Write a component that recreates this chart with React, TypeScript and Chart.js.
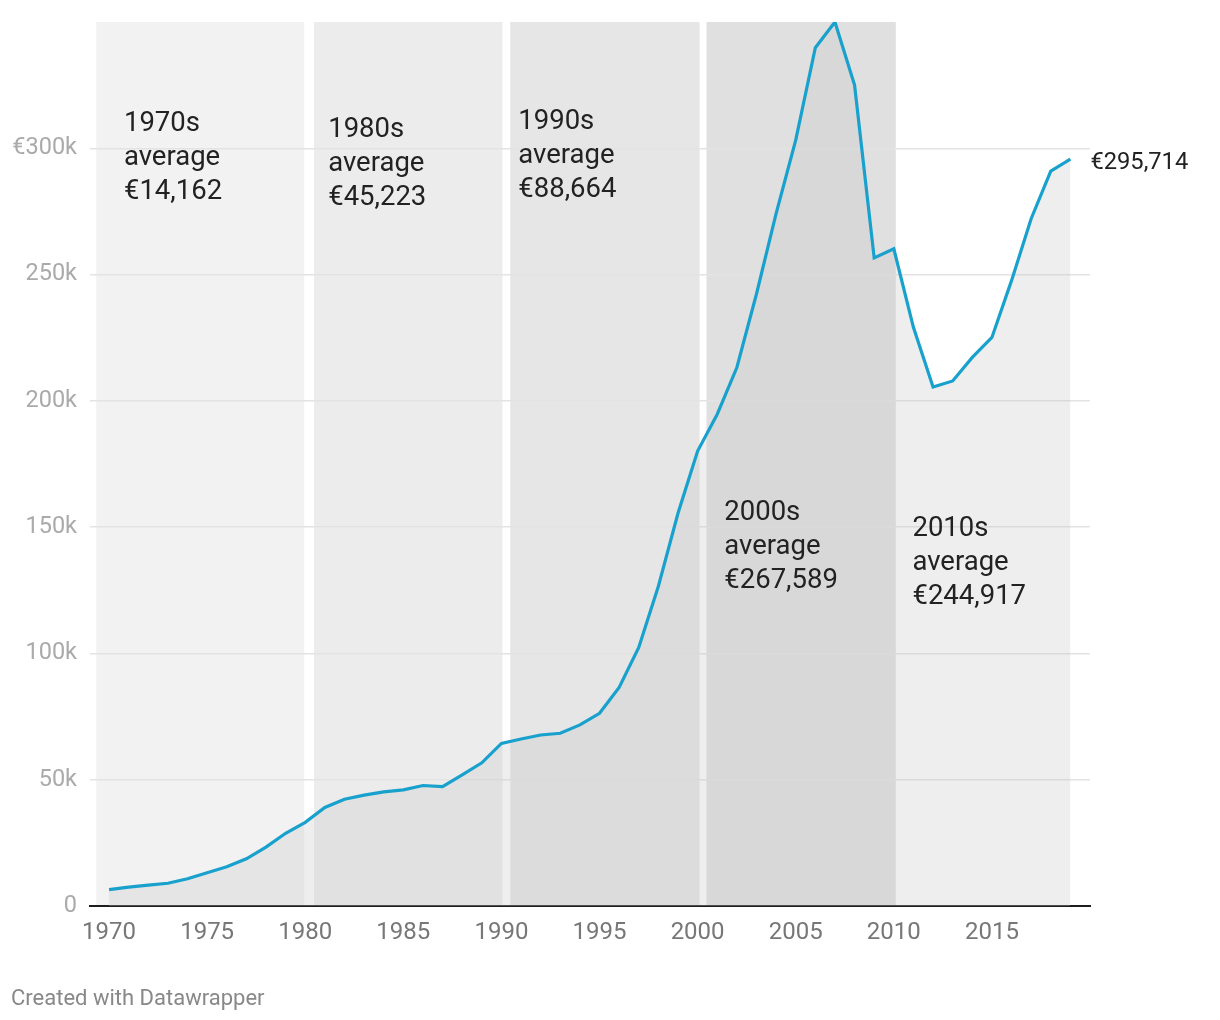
import React, { useEffect, useRef } from 'react';
import { Chart, registerables } from 'chart.js';

Chart.register(...registerables);

// ---- data ----
const years = [
  1970, 1971, 1972, 1973, 1974, 1975, 1976, 1977, 1978, 1979,
  1980, 1981, 1982, 1983, 1984, 1985, 1986, 1987, 1988, 1989,
  1990, 1991, 1992, 1993, 1994, 1995, 1996, 1997, 1998, 1999,
  2000, 2001, 2002, 2003, 2004, 2005, 2006, 2007, 2008, 2009,
  2010, 2011, 2012, 2013, 2014, 2015, 2016, 2017, 2018, 2019,
];
const prices = [
  6500, 7500, 8300, 9000, 10800, 13200, 15500, 18700, 23300, 28800,
  33100, 39000, 42300, 43900, 45200, 46000, 47700, 47300, 51900, 56700,
  64400, 66100, 67700, 68400, 71700, 76300, 86500, 102400, 126600, 155500,
  180100, 194700, 213200, 242300, 274100, 303200, 339800, 350000, 325000, 256600,
  260200, 229100, 205500, 207900, 217200, 225100, 247600, 272100, 291000, 295714,
];
const xTickValues = [1970, 1975, 1980, 1985, 1990, 1995, 2000, 2005, 2010, 2015];
const yTickValues = [0, 50000, 100000, 150000, 200000, 250000, 300000];
const decadeNames = ['1970s', '1980s', '1990s', '2000s', '2010s'];
const decadeAverages = ['€14,162', '€45,223', '€88,664', '€267,589', '€244,917'];
const bandStarts = [1969.35, 1980.45, 1990.45, 2000.45];
const bandEnds = [1979.95, 1990.05, 2000.1, 2010.1];
const lastLabel = '€295,714';
const footerText = 'Created with Datawrapper';

// ---- layout / style ----
const bandColors = ['#f2f2f2', '#ececec', '#e6e6e6', '#e0e0e0'];
const labelAnchors = [
  { x: 1970.76, y: 306700 },
  { x: 1981.17, y: 304300 },
  { x: 1990.86, y: 307500 },
  { x: 2001.36, y: 152800 },
  { x: 2010.95, y: 146400 },
];
const FONT = 'Roboto, "Noto Sans", sans-serif';

const decorPlugin = {
  id: 'decor',
  beforeDraw(chart: any) {
    const { ctx, chartArea, scales } = chart;
    const x = scales.x;
    ctx.save();
    bandStarts.forEach((s, i) => {
      const x1 = x.getPixelForValue(s);
      const x2 = x.getPixelForValue(bandEnds[i]);
      ctx.fillStyle = bandColors[i];
      ctx.fillRect(x1, chartArea.top, x2 - x1, chartArea.bottom - chartArea.top);
    });
    ctx.restore();
  },
  afterDraw(chart: any) {
    const { ctx, scales } = chart;
    const x = scales.x;
    const y = scales.y;
    ctx.save();
    ctx.font = `27.5px ${FONT}`;
    ctx.fillStyle = '#222222';
    ctx.textAlign = 'left';
    ctx.textBaseline = 'alphabetic';
    decadeNames.forEach((n, i) => {
      const px = x.getPixelForValue(labelAnchors[i].x);
      const py = y.getPixelForValue(labelAnchors[i].y);
      [n, 'average', decadeAverages[i]].forEach((t, j) => ctx.fillText(t, px, py + j * 34));
    });
    const lx = x.getPixelForValue(years[years.length - 1]) + 20;
    const ly = y.getPixelForValue(prices[prices.length - 1]) + 4;
    ctx.font = `23.7px ${FONT}`;
    ctx.textBaseline = 'middle';
    ctx.fillText(lastLabel, lx, ly);
    ctx.font = `22px ${FONT}`;
    ctx.fillStyle = '#888888';
    ctx.textBaseline = 'alphabetic';
    ctx.fillText(footerText, 11, 1005);
    ctx.restore();
  },
};

export default function App() {
  const canvasRef = useRef<HTMLCanvasElement | null>(null);

  useEffect(() => {
    if (!canvasRef.current) return;
    const chart = new Chart(canvasRef.current, {
      type: 'line',
      data: {
        datasets: [
          {
            data: years.map((yr, i) => ({ x: yr, y: prices[i] })),
            borderColor: '#18a1cd',
            borderWidth: 3.2,
            pointRadius: 0,
            tension: 0,
            fill: 'origin',
            backgroundColor: 'rgba(200,200,200,0.3)',
            borderJoinStyle: 'miter',
          },
        ],
      },
      options: {
        animation: false,
        responsive: false,
        devicePixelRatio: 1,
        layout: { padding: { left: 0, right: 130, top: 22, bottom: 0 } },
        plugins: {
          legend: { display: false },
          tooltip: { enabled: false },
        },
        scales: {
          x: {
            type: 'linear',
            min: 1969.03,
            max: 2020.0,
            afterBuildTicks: (scale: any) => {
              scale.ticks = xTickValues.map((v) => ({ value: v }));
            },
            afterFit: (scale: any) => {
              scale.height = 114;
              scale.paddingLeft = 0;
              scale.paddingRight = 0;
            },
            grid: { display: false, drawTicks: false },
            border: { display: true, color: '#1d1d1d', width: 2 },
            ticks: {
              autoSkip: false,
              maxRotation: 0,
              padding: 13,
              color: '#777777',
              font: { family: FONT, size: 24 },
              callback: (v: any) => String(v),
            },
          },
          y: {
            type: 'linear',
            min: 0,
            max: 350000,
            afterBuildTicks: (scale: any) => {
              scale.ticks = yTickValues.map((v) => ({ value: v }));
            },
            afterFit: (scale: any) => {
              scale.width = 90;
              scale.paddingTop = 0;
              scale.paddingBottom = 0;
            },
            grid: {
              drawTicks: false,
              lineWidth: 1.5,
              color: (c: any) => (c.tick && c.tick.value === 0 ? 'rgba(0,0,0,0)' : '#e3e3e3'),
            },
            border: { display: false },
            ticks: {
              padding: 13,
              color: '#aaaaaa',
              font: { family: FONT, size: 23.5 },
              callback: (v: any) =>
                v === 300000 ? '€300k' : v === 0 ? '0' : `${Number(v) / 1000}k`,
            },
          },
        },
      },
      plugins: [decorPlugin],
    });
    return () => chart.destroy();
  }, []);

  return (
    <div style={{ position: 'absolute', left: 0, top: 0, width: 1220, height: 1020, background: '#fff' }}>
      <canvas ref={canvasRef} width={1220} height={1020} style={{ width: 1220, height: 1020, display: 'block' }} />
    </div>
  );
}
